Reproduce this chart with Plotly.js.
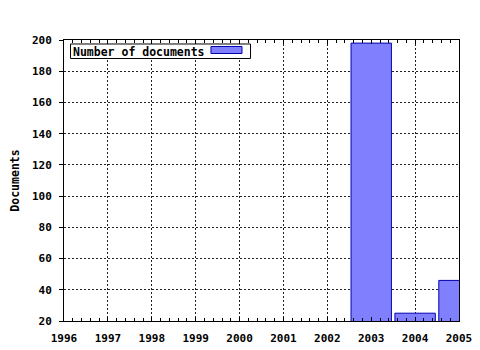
<!DOCTYPE html>
<html><head><meta charset="utf-8">
<script src="https://cdn.plot.ly/plotly-3.0.1.min.js"></script>
<style>html,body{margin:0;padding:0;background:#fff}#c{width:480px;height:350px}</style>
</head><body><div id="c"></div>
<script>
const years = [2003, 2004, 2005];
const documents = [198, 25, 46];
const seriesName = "Number of documents";
const xTicks = [1996, 1997, 1998, 1999, 2000, 2001, 2002, 2003, 2004, 2005];
const yTicks = [20, 40, 60, 80, 100, 120, 140, 160, 180, 200];

const barFill = "#8080ff", barLine = "#0000b0";
const bfont = (s) => ({family: "DejaVu Sans Mono", size: s, color: "#000", weight: "bold"});
const trace = {
  type: "bar", x: years, y: documents, name: seriesName,
  width: 0.92,
  marker: {color: barFill, line: {color: barLine, width: 1}},
  showlegend: false
};
const axBase = {
  showline: true, linecolor: "#000", linewidth: 1,
  showgrid: true, gridcolor: "#222", griddash: "2px,2px", gridwidth: 1,
  zeroline: false, tickcolor: "#000",
  tickfont: bfont(11)
};
const layout = {
  width: 480, height: 350,
  margin: {l: 64, r: 21, t: 40, b: 29},
  paper_bgcolor: "#fff", plot_bgcolor: "#fff",
  font: bfont(11),
  bargap: 0,
  xaxis: Object.assign({}, axBase, {
    range: [1996, 2005], tickvals: xTicks, ticktext: xTicks.map(String),
    mirror: "ticks", ticks: "inside", ticklen: 4, ticklabelstandoff: 7,
    minor: {dtick: 0.2, ticks: "inside", ticklen: 3, tickcolor: "#000", showgrid: false}
  }),
  yaxis: Object.assign({}, axBase, {
    range: [20, 200], tickvals: yTicks,
    mirror: true, ticks: "outside", ticklen: 4, ticklabelstandoff: 5,
    title: {text: "Documents", font: bfont(11.5), standoff: 9}
  }),
  annotations: [{
    xref: "paper", yref: "paper", x: 0.0177, y: 0.959, xanchor: "left", yanchor: "middle",
    text: seriesName, showarrow: false, font: bfont(11.5)
  }],
  shapes: [{
    type: "rect", xref: "paper", yref: "paper",
    x0: 0.0165, x1: 0.4722, y0: 0.9342, y1: 0.9858,
    fillcolor: "#fff", line: {color: "#000", width: 1}
  }, {
    type: "rect", xref: "paper", yref: "paper",
    x0: 0.372, x1: 0.4506, y0: 0.952, y1: 0.9769,
    fillcolor: barFill, line: {color: barLine, width: 1}
  }]
};
Plotly.newPlot("c", [trace], layout, {staticPlot: true, displayModeBar: false});
</script></body></html>
